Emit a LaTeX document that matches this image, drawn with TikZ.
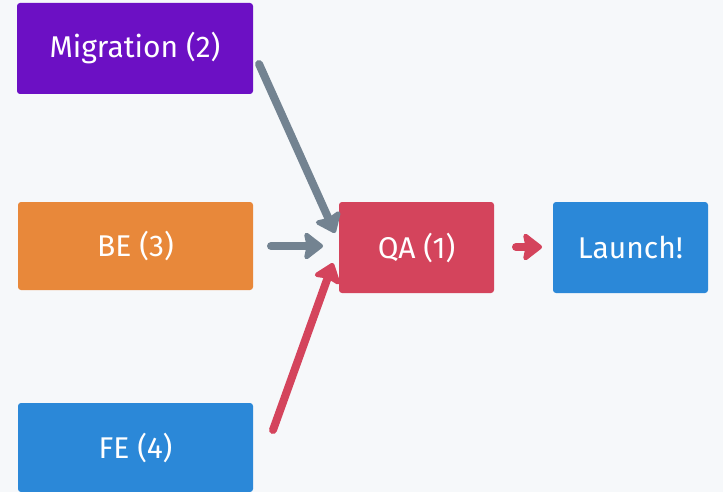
\documentclass[tikz,border=0pt]{standalone}
\usepackage{fontspec}
\setmainfont{Fira Sans}
\usetikzlibrary{arrows.meta}
\definecolor{bg}{HTML}{F6F8FA}
\definecolor{cpurple}{HTML}{6C10C4}
\definecolor{corange}{HTML}{E8883A}
\definecolor{cblue}{HTML}{2B88D8}
\definecolor{cred}{HTML}{D4445C}
\definecolor{cgray}{HTML}{738391}
\begin{document}
\begin{tikzpicture}[x=1pt,y=-1pt,
  box/.style={rounded corners=3pt, text=white, font=\fontsize{30}{34}\selectfont, inner sep=0pt},
  conn/.style={line width=8pt, line cap=round, -{Stealth[length=21pt,width=32pt,inset=3pt,round]}}]
\fill[bg] (0,0) rectangle (723,492);
\useasboundingbox (0,0) rectangle (723,492);
\node[box, fill=cpurple, minimum width=236pt, minimum height=91pt] (mig) at (135,48.5) {Migration (2)};
\node[box, fill=corange, minimum width=235pt, minimum height=88pt] (be) at (135.5,246) {BE (3)};
\node[box, fill=cblue, minimum width=235pt, minimum height=89pt] (fe) at (135.5,447.5) {FE (4)};
\node[box, fill=cred, minimum width=155pt, minimum height=91pt] (qa) at (416.5,247.5) {QA (1)};
\node[box, fill=cblue, minimum width=155pt, minimum height=91pt] (la) at (630.5,247.5) {Launch!};
\coordinate (m1) at (259,64);
\coordinate (m2) at (335,233);
\coordinate (b1) at (271,246);
\coordinate (b2) at (323,246);
\coordinate (f1) at (273,430);
\coordinate (f2) at (333,263);
\coordinate (q1) at (516,247);
\coordinate (q2) at (542,247);
\draw[conn, cgray] (m1) -- (m2);
\draw[conn, cgray] (b1) -- (b2);
\draw[conn, cred] (f1) -- (f2);
\draw[conn, cred] (q1) -- (q2);
\end{tikzpicture}
\end{document}
